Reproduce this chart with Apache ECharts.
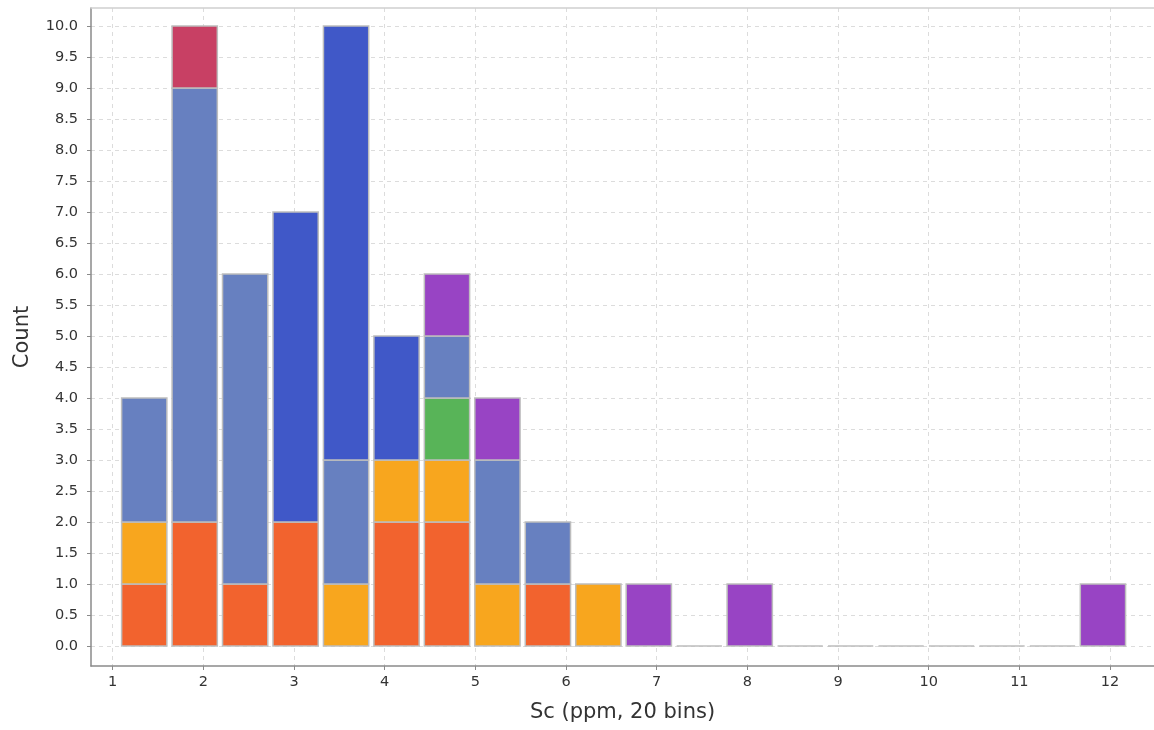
<!DOCTYPE html>
<html>
<head>
<meta charset="utf-8">
<script src="https://cdn.jsdelivr.net/npm/echarts@6/dist/echarts.min.js"></script>
<style>
html,body{margin:0;padding:0;background:#fff;}
#chart{width:1154px;height:730px;}
</style>
</head>
<body>
<div id="chart"></div>
<script>
// ---- data ----
const binMin = 1.07;
const binMax = 12.2;
const binCount = 20;
const xTickValues = [1, 2, 3, 4, 5, 6, 7, 8, 9, 10, 11, 12];
const yTickValues = [0, 0.5, 1, 1.5, 2, 2.5, 3, 3.5, 4, 4.5, 5, 5.5, 6, 6.5, 7, 7.5, 8, 8.5, 9, 9.5, 10];
const groupNames = ['G1', 'G2', 'G3', 'G4', 'G5', 'G6', 'G7'];
const groupColors = ['#F2632E', '#F8A61E', '#58B458', '#6780C0', '#4058C8', '#9844C4', '#C84064'];
const countsG1 = [1, 2, 1, 2, 0, 2, 2, 0, 1, 0, 0, 0, 0, 0, 0, 0, 0, 0, 0, 0];
const countsG2 = [1, 0, 0, 0, 1, 1, 1, 1, 0, 1, 0, 0, 0, 0, 0, 0, 0, 0, 0, 0];
const countsG3 = [0, 0, 0, 0, 0, 0, 1, 0, 0, 0, 0, 0, 0, 0, 0, 0, 0, 0, 0, 0];
const countsG4 = [2, 7, 5, 0, 2, 0, 1, 2, 1, 0, 0, 0, 0, 0, 0, 0, 0, 0, 0, 0];
const countsG5 = [0, 0, 0, 5, 7, 2, 0, 0, 0, 0, 0, 0, 0, 0, 0, 0, 0, 0, 0, 0];
const countsG6 = [0, 0, 0, 0, 0, 0, 1, 1, 0, 0, 1, 0, 1, 0, 0, 0, 0, 0, 0, 1];
const countsG7 = [0, 1, 0, 0, 0, 0, 0, 0, 0, 0, 0, 0, 0, 0, 0, 0, 0, 0, 0, 0];
const xAxisName = 'Sc (ppm, 20 bins)';
const yAxisName = 'Count';

// ---- build ----
const groups = [countsG1, countsG2, countsG3, countsG4, countsG5, countsG6, countsG7];
const binWidth = (binMax - binMin) / binCount;
const base = new Array(binCount).fill(0);
const FONT = '"DejaVu Sans", Verdana, sans-serif';

function makeRender(color) {
  return function (params, api) {
    const p0 = api.coord([api.value(0), api.value(2)]);
    const p1 = api.coord([api.value(1), api.value(3)]);
    const inset = 2.6;
    return {
      type: 'rect',
      shape: { x: p0[0] + inset, y: p1[1], width: p1[0] - p0[0] - 2 * inset, height: p0[1] - p1[1] },
      style: { fill: color, stroke: '#bdbdbd', lineWidth: 1.5 }
    };
  };
}

const series = [];
groups.forEach(function (arr, gi) {
  const data = [];
  arr.forEach(function (v, i) {
    if (v > 0) {
      const s = binMin + i * binWidth;
      data.push([s, s + binWidth, base[i], base[i] + v]);
      base[i] += v;
    }
  });
  series.push({
    type: 'custom', name: groupNames[gi], renderItem: makeRender(groupColors[gi]),
    encode: { x: [0, 1], y: [2, 3] }, data: data, silent: true
  });
});
const emptyData = [];
base.forEach(function (t, i) {
  if (t === 0) {
    const s = binMin + i * binWidth;
    emptyData.push([s, s + binWidth, 0, 0]);
  }
});
series.push({
  type: 'custom', name: 'empty', renderItem: makeRender('#ffffff'),
  encode: { x: [0, 1], y: [2, 3] }, data: emptyData, silent: true
});

const chart = echarts.init(document.getElementById('chart'), null, { renderer: 'canvas' });
chart.setOption({
  animation: false,
  backgroundColor: '#ffffff',
  grid: { left: 91, right: 0, top: 8, bottom: 64, containLabel: false },
  xAxis: [{
    type: 'value', min: 0.761, max: 12.485, minInterval: 1, maxInterval: 1,
    name: xAxisName, nameLocation: 'middle', nameGap: 36,
    nameTextStyle: { fontFamily: FONT, fontSize: 21, color: '#333' },
    axisLine: { show: true, onZero: false, lineStyle: { color: '#8a8a8a', width: 1.5 } },
    axisTick: { show: true, length: 4, lineStyle: { color: '#8a8a8a' }, customValues: xTickValues },
    axisLabel: { fontFamily: FONT, fontSize: 14.5, color: '#333', margin: 9, customValues: xTickValues },
    splitLine: { show: true, lineStyle: { color: '#dcdcdc', type: [4, 4], width: 1 } }
  }, {
    type: 'value', position: 'top', min: 0.761, max: 12.485,
    axisLine: { show: true, onZero: false, lineStyle: { color: '#cfcfcf', width: 1.5 } },
    axisTick: { show: false }, axisLabel: { show: false }, splitLine: { show: false }
  }],
  yAxis: {
    type: 'value', min: -0.323, max: 10.29, minInterval: 0.5, maxInterval: 0.5,
    name: yAxisName, nameLocation: 'middle', nameGap: 58,
    nameTextStyle: { fontFamily: FONT, fontSize: 21, color: '#333' },
    axisLine: { show: true, onZero: false, lineStyle: { color: '#8a8a8a', width: 1.5 } },
    axisTick: { show: true, length: 4, lineStyle: { color: '#8a8a8a' }, customValues: yTickValues },
    axisLabel: { fontFamily: FONT, fontSize: 14.5, color: '#333', margin: 13, customValues: yTickValues,
      formatter: function (v) { return v.toFixed(1); } },
    splitLine: { show: true, lineStyle: { color: '#dcdcdc', type: [4, 4], width: 1 } }
  },
  series: series
});
</script>
</body>
</html>
